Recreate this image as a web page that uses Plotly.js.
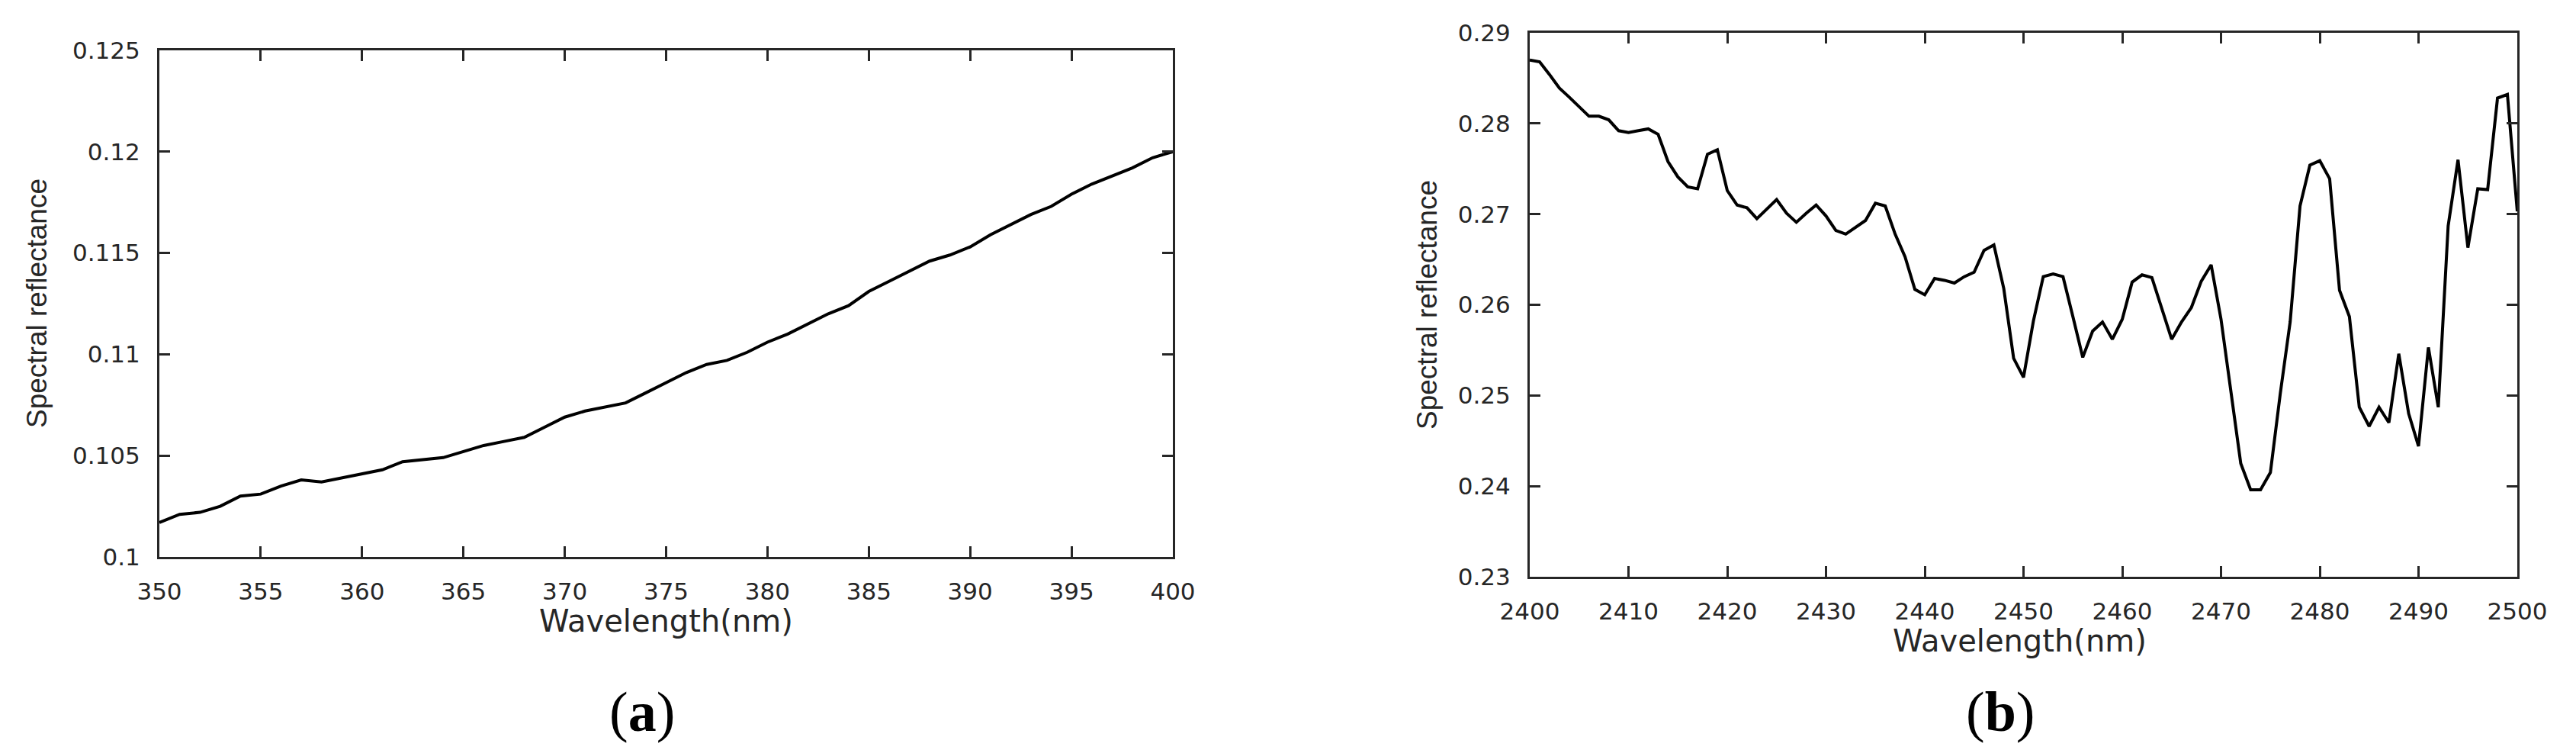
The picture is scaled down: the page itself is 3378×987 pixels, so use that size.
<!DOCTYPE html>
<html>
<head>
<meta charset="utf-8">
<script src="https://cdn.plot.ly/plotly-3.0.1.min.js"></script>
<style>
  body { margin: 0; background: #fff; }
  #spec { width: 3378px; height: 987px; }
</style>
</head>
<body>
<div id="spec"></div>
<script>
// (a) UV end of spectrum
var wlA = [350,351,352,353,354,355,356,357,358,359,360,361,362,363,364,365,366,367,368,369,
  370,371,372,373,374,375,376,377,378,379,380,381,382,383,384,385,386,387,388,389,
  390,391,392,393,394,395,396,397,398,399,400];
var reflA = [0.1017,0.1021,0.1022,0.1025,0.1030,0.1031,0.1035,0.1038,0.1037,0.1039,
  0.1041,0.1043,0.1047,0.1048,0.1049,0.1052,0.1055,0.1057,0.1059,0.1064,
  0.1069,0.1072,0.1074,0.1076,0.1081,0.1086,0.1091,0.1095,0.1097,0.1101,
  0.1106,0.1110,0.1115,0.1120,0.1124,0.1131,0.1136,0.1141,0.1146,0.1149,
  0.1153,0.1159,0.1164,0.1169,0.1173,0.1179,0.1184,0.1188,0.1192,0.1197,0.1200];

// (b) SWIR end of spectrum
var wlB = [2400,2401,2402,2403,2404,2405,2406,2407,2408,2409,2410,2411,2412,2413,2414,2415,2416,2417,2418,2419,
  2420,2421,2422,2423,2424,2425,2426,2427,2428,2429,2430,2431,2432,2433,2434,2435,2436,2437,2438,2439,
  2440,2441,2442,2443,2444,2445,2446,2447,2448,2449,2450,2451,2452,2453,2454,2455,2456,2457,2458,2459,
  2460,2461,2462,2463,2464,2465,2466,2467,2468,2469,2470,2471,2472,2473,2474,2475,2476,2477,2478,2479,
  2480,2481,2482,2483,2484,2485,2486,2487,2488,2489,2490,2491,2492,2493,2494,2495,2496,2497,2498,2499,2500];
var reflB = [0.2870,0.2868,0.2854,0.2839,0.2829,0.2818,0.2808,0.2808,0.2804,0.2792,
  0.2790,0.2792,0.2794,0.2788,0.2758,0.2741,0.2730,0.2728,0.2766,0.2771,
  0.2726,0.2710,0.2707,0.2695,0.2706,0.2716,0.2701,0.2691,0.2701,0.2710,
  0.2698,0.2682,0.2678,0.2686,0.2693,0.2712,0.2709,0.2678,0.2653,0.2617,
  0.2611,0.2629,0.2627,0.2624,0.2631,0.2636,0.2660,0.2666,0.2618,0.2541,
  0.2520,0.2582,0.2631,0.2634,0.2631,0.2587,0.2542,0.2571,0.2581,0.2562,
  0.2584,0.2625,0.2633,0.2630,0.2597,0.2562,0.2581,0.2597,0.2626,0.2644,
  0.2584,0.2507,0.2425,0.2396,0.2396,0.2415,0.2502,0.2581,0.2709,0.2754,
  0.2759,0.2739,0.2616,0.2587,0.2487,0.2466,0.2487,0.2470,0.2546,0.2480,
  0.2444,0.2553,0.2487,0.2687,0.2760,0.2663,0.2728,0.2727,0.2828,0.2832,0.2703];

// tick labels
var xTicksA = [350,355,360,365,370,375,380,385,390,395,400];
var yTicksA = [0.1,0.105,0.11,0.115,0.12,0.125];
var yLabelsA = ['0.1','0.105','0.11','0.115','0.12','0.125'];
var xTicksB = [2400,2410,2420,2430,2440,2450,2460,2470,2480,2490,2500];
var yTicksB = [0.23,0.24,0.25,0.26,0.27,0.28,0.29];
var yLabelsB = ['0.23','0.24','0.25','0.26','0.27','0.28','0.29'];

var W = 3378, H = 987;
var axCol = '#262626';
var tickFont = {family: 'DejaVu Sans', size: 31, color: axCol};

function px(x) { return x / W; }
function py(y) { return 1 - y / H; }

function axis(extra) {
  var a = {
    showline: true, linecolor: axCol, linewidth: 3,
    mirror: 'ticks', ticks: 'inside', ticklen: 14, tickwidth: 3, tickcolor: axCol,
    showgrid: false, zeroline: false,
    tickfont: tickFont, ticklabelstandoff: 16, fixedrange: true
  };
  for (var k in extra) a[k] = extra[k];
  return a;
}

var traceA = {
  x: wlA, y: reflA, type: 'scatter', mode: 'lines',
  line: {color: '#000', width: 4}, xaxis: 'x', yaxis: 'y', showlegend: false
};
var traceB = {
  x: wlB, y: reflB, type: 'scatter', mode: 'lines',
  line: {color: '#000', width: 4}, xaxis: 'x2', yaxis: 'y2', showlegend: false
};

var titleFont = {family: 'DejaVu Sans', size: 40, color: axCol};
var yTitleFont = {family: 'Liberation Sans', size: 37, color: axCol};
var panelFont = {family: 'Liberation Serif', size: 74, color: '#000'};

var layout = {
  width: W, height: H,
  margin: {l: 0, r: 0, t: 0, b: 0},
  paper_bgcolor: '#fff', plot_bgcolor: '#fff',
  xaxis: axis({domain: [px(209), px(1538)], range: [350, 400],
    tickvals: xTicksA, anchor: 'y'}),
  yaxis: axis({domain: [py(730), py(66)], range: [0.1, 0.125],
    tickvals: yTicksA, ticktext: yLabelsA, anchor: 'x'}),
  xaxis2: axis({domain: [px(2006), px(3301)], range: [2400, 2500],
    tickvals: xTicksB, anchor: 'y2'}),
  yaxis2: axis({domain: [py(756), py(43)], range: [0.23, 0.29],
    tickvals: yTicksB, ticktext: yLabelsB, anchor: 'x2'}),
  annotations: [
    {xref: 'paper', yref: 'paper', x: px(873), y: py(814), text: 'Wavelength(nm)',
      showarrow: false, font: titleFont, xanchor: 'center', yanchor: 'middle'},
    {xref: 'paper', yref: 'paper', x: px(2648), y: py(840), text: 'Wavelength(nm)',
      showarrow: false, font: titleFont, xanchor: 'center', yanchor: 'middle'},
    {xref: 'paper', yref: 'paper', x: px(48), y: py(398), text: 'Spectral reflectance',
      showarrow: false, font: yTitleFont, textangle: -90, xanchor: 'center', yanchor: 'middle'},
    {xref: 'paper', yref: 'paper', x: px(1871), y: py(400), text: 'Spectral reflectance',
      showarrow: false, font: yTitleFont, textangle: -90, xanchor: 'center', yanchor: 'middle'},
    {xref: 'paper', yref: 'paper', x: px(842), y: py(933), text: '(<b>a</b>)',
      showarrow: false, font: panelFont, xanchor: 'center', yanchor: 'middle'},
    {xref: 'paper', yref: 'paper', x: px(2623), y: py(933), text: '(<b>b</b>)',
      showarrow: false, font: panelFont, xanchor: 'center', yanchor: 'middle'}
  ]
};

Plotly.newPlot('spec', [traceA, traceB], layout, {displayModeBar: false, staticPlot: true});
</script>
</body>
</html>
